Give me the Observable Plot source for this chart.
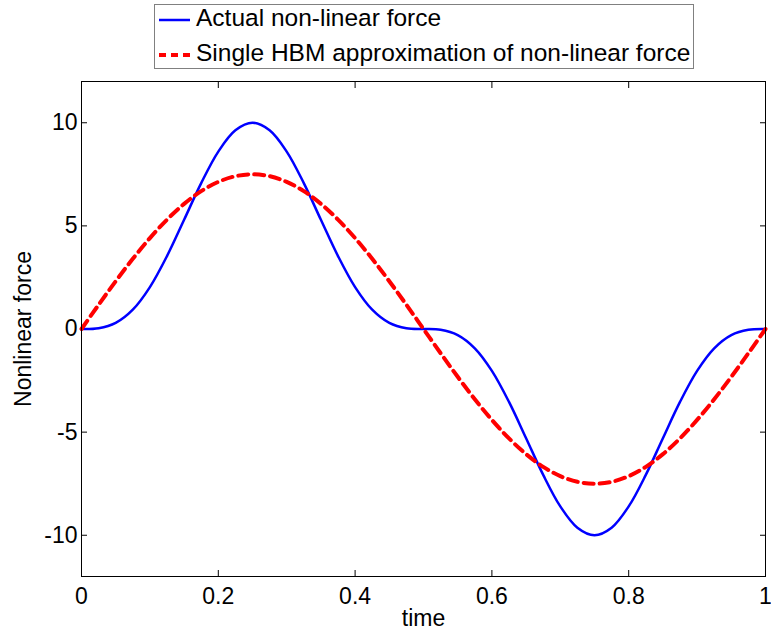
<!DOCTYPE html>
<html>
<head>
<meta charset="utf-8">
<script src="https://cdn.jsdelivr.net/npm/d3@7"></script>
<script src="https://cdn.jsdelivr.net/npm/@observablehq/plot@0.6"></script>
<style>
  html, body { margin: 0; padding: 0; background: #fff; }
  #wrap { position: relative; width: 771px; height: 632px; font-family: "Liberation Sans", Arial, sans-serif; }
  #legend { position: absolute; left: 154px; top: 4px; width: 538px; height: 63px; border: 1px solid #808080; background: #fff; box-sizing: content-box; }
  .row { position: absolute; left: 4px; height: 32px; line-height: 32px; font-size: 24.5px; white-space: nowrap; color: #000; }
  .row svg { vertical-align: middle; margin-right: 6px; }
</style>
</head>
<body>
<div id="wrap"></div>
<script>
// Data
const time = [0,0.025,0.05,0.075,0.1,0.125,0.15,0.175,0.2,0.225,0.25,0.275,0.3,0.325,0.35,0.375,0.4,0.425,0.45,0.475,0.5,0.525,0.55,0.575,0.6,0.625,0.65,0.675,0.7,0.725,0.75,0.775,0.8,0.825,0.85,0.875,0.9,0.925,0.95,0.975,1];
const actualForce = [0,0.038,0.295,0.936,2.031,3.536,5.295,7.074,8.602,9.635,10,9.635,8.602,7.074,5.295,3.536,2.031,0.936,0.295,0.038,0,-0.038,-0.295,-0.936,-2.031,-3.536,-5.295,-7.074,-8.602,-9.635,-10,-9.635,-8.602,-7.074,-5.295,-3.536,-2.031,-0.936,-0.295,-0.038,0];
const hbmForce = [0,1.173,2.318,3.405,4.408,5.303,6.068,6.683,7.133,7.408,7.5,7.408,7.133,6.683,6.068,5.303,4.408,3.405,2.318,1.173,0,-1.173,-2.318,-3.405,-4.408,-5.303,-6.068,-6.683,-7.133,-7.408,-7.5,-7.408,-7.133,-6.683,-6.068,-5.303,-4.408,-3.405,-2.318,-1.173,0];
const xTicks = [0,0.2,0.4,0.6,0.8,1];
const xTickLabels = ["0","0.2","0.4","0.6","0.8","1"];
const yTicks = [-10,-5,0,5,10];
const yTickLabels = ["-10","-5","0","5","10"];
const seriesNames = ["Actual non-linear force","Single HBM approximation of non-linear force"];
const xLabel = "time";
const yLabel = "Nonlinear force";

const actualRows = time.map((t, i) => ({t, v: actualForce[i]}));
const hbmRows = time.map((t, i) => ({t, v: hbmForce[i]}));

const chart = Plot.plot({
  width: 771,
  height: 632,
  marginLeft: 81,
  marginRight: 6,
  marginTop: 81,
  marginBottom: 56,
  x: {domain: [0, 1]},
  y: {domain: [-12, 12]},
  style: {fontFamily: "'Liberation Sans', Arial, sans-serif", fontSize: "23px", color: "#000", background: "#fff"},
  marks: [
    Plot.axisX(xTicks, {anchor: "bottom", tickSize: -6, tickPadding: 17, tickFormat: (d, i) => xTickLabels[i], label: xLabel, labelAnchor: "center", labelArrow: "none", labelOffset: 49, fontSize: 23}),
    Plot.axisX(xTicks, {anchor: "top", tickSize: -6, tickFormat: () => "", label: null}),
    Plot.axisY(yTicks, {anchor: "left", tickSize: -6, tickPadding: 10, tickFormat: (d, i) => yTickLabels[i], label: yLabel, labelAnchor: "center", labelArrow: "none", labelOffset: 67, fontSize: 23}),
    Plot.axisY(yTicks, {anchor: "right", tickSize: -6, tickFormat: () => "", label: null}),
    Plot.line(actualRows, {x: "t", y: "v", stroke: "#0000ff", strokeWidth: 2.5, curve: "catmull-rom"}),
    Plot.line(hbmRows, {x: "t", y: "v", stroke: "#ff0000", strokeWidth: 4, strokeDasharray: "10,6", curve: "catmull-rom"}),
    Plot.frame({stroke: "#000", strokeWidth: 1})
  ]
});

const wrap = document.getElementById("wrap");
wrap.appendChild(chart);

const legend = document.createElement("div");
legend.id = "legend";
legend.innerHTML = `
  <div class="row" style="top:-3px"><svg width="31" height="6"><line x1="0" y1="3" x2="31" y2="3" stroke="#0000ff" stroke-width="2.5"/></svg>${seriesNames[0]}</div>
  <div class="row" style="top:32px"><svg width="31" height="6"><line x1="0" y1="3" x2="31" y2="3" stroke="#ff0000" stroke-width="4" stroke-dasharray="7,5"/></svg>${seriesNames[1]}</div>`;
wrap.appendChild(legend);
</script>
</body>
</html>
